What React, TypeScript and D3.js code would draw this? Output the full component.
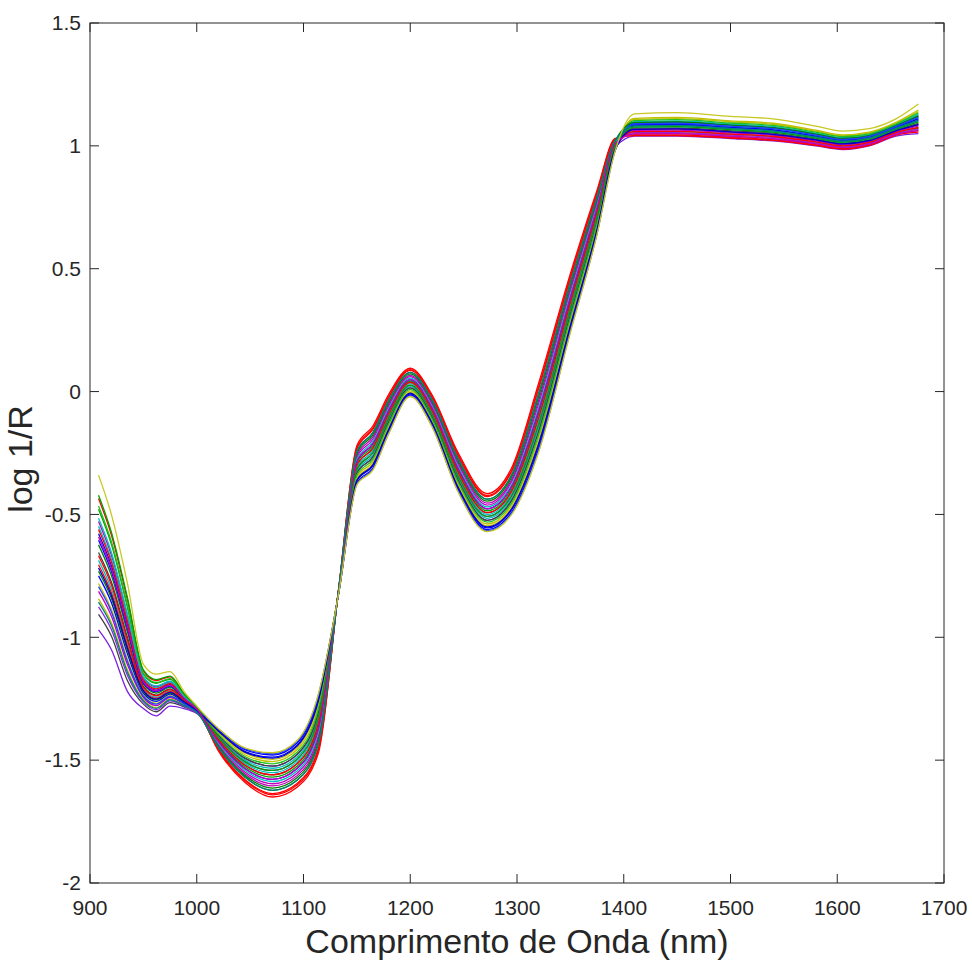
import React from 'react';
import * as d3 from 'd3';

const wavelengths = [908, 920, 935, 950, 962, 975, 988, 1000, 1020, 1045, 1071, 1094, 1114, 1133, 1150, 1165, 1180, 1200, 1220, 1245, 1272, 1295, 1320, 1350, 1375, 1392, 1410, 1450, 1500, 1540, 1580, 1605, 1630, 1655, 1676];

const s01 = [-0.34, -0.50, -0.78, -1.11, -1.15, -1.14, -1.22, -1.28, -1.37, -1.45, -1.47, -1.42, -1.23, -0.82, -0.38, -0.32, -0.17, -0.02, -0.14, -0.41, -0.57, -0.50, -0.25, 0.24, 0.64, 0.98, 1.13, 1.135, 1.12, 1.11, 1.08, 1.06, 1.07, 1.11, 1.17];
const s02 = [-0.97, -1.05, -1.22, -1.29, -1.32, -1.28, -1.29, -1.31, -1.397, -1.492, -1.524, -1.477, -1.302, -0.814, -0.332, -0.266, -0.122, 0.015, -0.101, -0.362, -0.524, -0.443, -0.166, 0.312, 0.694, 0.995, 1.04, 1.04, 1.03, 1.02, 1.00, 0.985, 1.00, 1.04, 1.05];
const s03 = [-0.907, -0.995, -1.176, -1.272, -1.303, -1.266, -1.283, -1.307, -1.415, -1.52, -1.56, -1.515, -1.35, -0.81, -0.30, -0.23, -0.09, 0.038, -0.075, -0.33, -0.493, -0.405, -0.11, 0.36, 0.73, 1.005, 1.067, 1.069, 1.057, 1.047, 1.024, 1.008, 1.021, 1.061, 1.086];
const s04 = [-0.435, -0.583, -0.846, -1.137, -1.176, -1.161, -1.231, -1.285, -1.46, -1.59, -1.65, -1.61, -1.47, -0.80, -0.22, -0.14, -0.01, 0.095, -0.01, -0.25, -0.415, -0.31, 0.03, 0.48, 0.82, 1.03, 1.042, 1.042, 1.032, 1.022, 1.002, 0.987, 1.002, 1.045, 1.07];
const s05 = [-0.479, -0.621, -0.877, -1.150, -1.187, -1.171, -1.235, -1.287, -1.420, -1.527, -1.569, -1.525, -1.362, -0.809, -0.292, -0.221, -0.082, 0.043, -0.069, -0.322, -0.485, -0.396, -0.096, 0.372, 0.739, 1.008, 1.085, 1.088, 1.075, 1.065, 1.040, 1.023, 1.035, 1.075, 1.110];
const s06 = [-0.579, -0.709, -0.947, -1.178, -1.215, -1.193, -1.247, -1.291, -1.379, -1.464, -1.488, -1.439, -1.254, -0.818, -0.364, -0.302, -0.154, -0.009, -0.127, -0.394, -0.555, -0.481, -0.222, 0.264, 0.658, 0.985, 1.094, 1.097, 1.084, 1.074, 1.048, 1.030, 1.042, 1.082, 1.122];
const s07 = [-0.529, -0.665, -0.912, -1.164, -1.201, -1.182, -1.241, -1.289, -1.438, -1.555, -1.605, -1.563, -1.41, -0.805, -0.26, -0.185, -0.05, 0.066, -0.043, -0.29, -0.454, -0.358, -0.04, 0.42, 0.775, 1.018, 1.067, 1.069, 1.057, 1.047, 1.024, 1.008, 1.021, 1.061, 1.086];
const s08 = [-0.687, -0.803, -1.022, -1.209, -1.244, -1.217, -1.259, -1.297, -1.402, -1.499, -1.533, -1.487, -1.314, -0.813, -0.324, -0.257, -0.114, 0.020, -0.095, -0.354, -0.516, -0.434, -0.152, 0.324, 0.703, 0.998, 1.090, 1.092, 1.080, 1.070, 1.044, 1.026, 1.039, 1.079, 1.116];
const s09 = [-0.624, -0.748, -0.978, -1.191, -1.227, -1.203, -1.252, -1.294, -1.447, -1.569, -1.623, -1.582, -1.434, -0.803, -0.244, -0.167, -0.034, 0.078, -0.030, -0.274, -0.438, -0.339, -0.012, 0.444, 0.793, 1.023, 1.058, 1.059, 1.048, 1.038, 1.016, 1.000, 1.014, 1.054, 1.074];
const s10 = [-0.705, -0.819, -1.035, -1.214, -1.249, -1.221, -1.261, -1.297, -1.453, -1.579, -1.636, -1.595, -1.451, -0.802, -0.233, -0.154, -0.023, 0.086, -0.020, -0.263, -0.427, -0.325, 0.008, 0.461, 0.806, 1.026, 1.049, 1.050, 1.039, 1.029, 1.008, 0.993, 1.007, 1.047, 1.062];
const s11 = [-0.781, -0.885, -1.088, -1.236, -1.269, -1.238, -1.269, -1.301, -1.388, -1.478, -1.506, -1.458, -1.278, -0.816, -0.348, -0.284, -0.138, 0.003, -0.114, -0.378, -0.539, -0.462, -0.194, 0.288, 0.676, 0.990, 1.108, 1.111, 1.098, 1.088, 1.060, 1.041, 1.053, 1.093, 1.140];
const s12 = [-0.750, -0.858, -1.066, -1.227, -1.261, -1.231, -1.266, -1.300, -1.424, -1.534, -1.578, -1.534, -1.374, -0.808, -0.284, -0.212, -0.074, 0.049, -0.062, -0.314, -0.477, -0.386, -0.082, 0.384, 0.748, 1.010, 1.081, 1.083, 1.071, 1.061, 1.036, 1.019, 1.032, 1.072, 1.104];
const s13 = [-0.548, -0.682, -0.925, -1.169, -1.206, -1.186, -1.243, -1.290, -1.411, -1.513, -1.551, -1.506, -1.338, -0.811, -0.308, -0.239, -0.098, 0.032, -0.082, -0.338, -0.500, -0.415, -0.124, 0.348, 0.721, 1.003, 1.099, 1.102, 1.089, 1.079, 1.052, 1.034, 1.046, 1.086, 1.128];
const s14 = [-0.655, -0.775, -1.000, -1.200, -1.235, -1.210, -1.255, -1.295, -1.397, -1.492, -1.524, -1.477, -1.302, -0.814, -0.332, -0.266, -0.122, 0.015, -0.101, -0.362, -0.524, -0.443, -0.166, 0.312, 0.694, 0.995, 1.072, 1.073, 1.062, 1.052, 1.028, 1.011, 1.025, 1.065, 1.092];
const s15 = [-0.813, -0.913, -1.110, -1.245, -1.278, -1.245, -1.273, -1.303, -1.433, -1.548, -1.596, -1.553, -1.398, -0.806, -0.268, -0.194, -0.058, 0.061, -0.049, -0.298, -0.462, -0.367, -0.054, 0.408, 0.766, 1.015, 1.063, 1.064, 1.053, 1.043, 1.020, 1.004, 1.018, 1.058, 1.080];
const s16 = [-0.466, -0.610, -0.868, -1.146, -1.184, -1.168, -1.234, -1.286, -1.393, -1.485, -1.515, -1.468, -1.290, -0.815, -0.340, -0.275, -0.130, 0.009, -0.108, -0.370, -0.531, -0.453, -0.180, 0.300, 0.685, 0.993, 1.103, 1.107, 1.093, 1.083, 1.056, 1.038, 1.049, 1.089, 1.134];
const s17 = [-0.605, -0.731, -0.965, -1.186, -1.221, -1.199, -1.249, -1.293, -1.375, -1.457, -1.479, -1.430, -1.242, -0.819, -0.372, -0.311, -0.162, -0.014, -0.134, -0.402, -0.562, -0.491, -0.236, 0.252, 0.649, 0.983, 1.085, 1.088, 1.075, 1.065, 1.040, 1.023, 1.035, 1.075, 1.110];
const s18 = [-0.561, -0.693, -0.934, -1.173, -1.210, -1.189, -1.245, -1.291, -1.456, -1.583, -1.641, -1.601, -1.458, -0.801, -0.228, -0.149, -0.018, 0.089, -0.017, -0.258, -0.423, -0.320, 0.016, 0.468, 0.811, 1.028, 1.045, 1.045, 1.035, 1.025, 1.004, 0.989, 1.004, 1.044, 1.056];
const s19 = [-0.844, -0.940, -1.132, -1.254, -1.286, -1.252, -1.276, -1.304, -1.384, -1.471, -1.497, -1.449, -1.266, -0.817, -0.356, -0.293, -0.146, -0.003, -0.121, -0.386, -0.547, -0.472, -0.208, 0.276, 0.667, 0.988, 1.112, 1.116, 1.102, 1.092, 1.064, 1.045, 1.056, 1.096, 1.146];
const s20 = [-0.516, -0.654, -0.903, -1.160, -1.198, -1.179, -1.240, -1.288, -1.429, -1.541, -1.587, -1.544, -1.386, -0.807, -0.276, -0.203, -0.066, 0.055, -0.056, -0.306, -0.469, -0.377, -0.068, 0.396, 0.757, 1.013, 1.076, 1.078, 1.066, 1.056, 1.032, 1.015, 1.028, 1.068, 1.098];
const s21 = [-0.876, -0.968, -1.154, -1.263, -1.295, -1.259, -1.280, -1.306, -1.406, -1.506, -1.542, -1.496, -1.326, -0.812, -0.316, -0.248, -0.106, 0.026, -0.088, -0.346, -0.508, -0.424, -0.138, 0.336, 0.712, 1.000, 1.054, 1.054, 1.044, 1.034, 1.012, 0.996, 1.011, 1.051, 1.068];
const s22 = [-0.731, -0.841, -1.053, -1.222, -1.255, -1.227, -1.263, -1.299, -1.442, -1.562, -1.614, -1.572, -1.422, -0.804, -0.252, -0.176, -0.042, 0.072, -0.036, -0.282, -0.446, -0.348, -0.026, 0.432, 0.784, 1.020, 1.094, 1.097, 1.084, 1.074, 1.048, 1.030, 1.042, 1.082, 1.122];
const s23 = [-0.668, -0.786, -1.009, -1.204, -1.238, -1.213, -1.256, -1.296, -1.415, -1.520, -1.560, -1.515, -1.350, -0.810, -0.300, -0.230, -0.090, 0.038, -0.075, -0.330, -0.493, -0.405, -0.110, 0.360, 0.730, 1.005, 1.058, 1.059, 1.048, 1.038, 1.016, 1.000, 1.014, 1.054, 1.074];
const s24 = [-0.794, -0.896, -1.097, -1.240, -1.272, -1.241, -1.270, -1.302, -1.372, -1.453, -1.474, -1.424, -1.235, -0.820, -0.377, -0.316, -0.167, -0.018, -0.137, -0.407, -0.567, -0.496, -0.244, 0.245, 0.644, 0.981, 1.090, 1.092, 1.080, 1.070, 1.044, 1.026, 1.039, 1.079, 1.116];
const s25 = [-0.422, -0.572, -0.837, -1.133, -1.172, -1.158, -1.229, -1.284, -1.406, -1.506, -1.542, -1.496, -1.326, -0.812, -0.316, -0.248, -0.106, 0.026, -0.088, -0.346, -0.508, -0.424, -0.138, 0.336, 0.712, 1.000, 1.076, 1.078, 1.066, 1.056, 1.032, 1.015, 1.028, 1.068, 1.098];
const s26 = [-0.718, -0.830, -1.044, -1.218, -1.252, -1.224, -1.262, -1.298, -1.381, -1.467, -1.492, -1.443, -1.259, -0.818, -0.361, -0.298, -0.151, -0.006, -0.124, -0.391, -0.551, -0.477, -0.216, 0.269, 0.662, 0.986, 1.067, 1.069, 1.057, 1.047, 1.024, 1.008, 1.021, 1.061, 1.086];
const s27 = [-0.592, -0.720, -0.956, -1.182, -1.218, -1.196, -1.248, -1.292, -1.424, -1.534, -1.578, -1.534, -1.374, -0.808, -0.284, -0.212, -0.074, 0.049, -0.062, -0.314, -0.477, -0.386, -0.082, 0.384, 0.748, 1.010, 1.049, 1.050, 1.039, 1.029, 1.008, 0.993, 1.007, 1.047, 1.062];
const s28 = [-0.857, -0.951, -1.141, -1.258, -1.289, -1.255, -1.277, -1.305, -1.447, -1.569, -1.623, -1.582, -1.434, -0.803, -0.244, -0.167, -0.034, 0.078, -0.030, -0.274, -0.438, -0.339, -0.012, 0.444, 0.793, 1.023, 1.081, 1.083, 1.071, 1.061, 1.036, 1.019, 1.032, 1.072, 1.104];

const spectra = [s02, s03, s04, s05, s06, s07, s08, s09, s10, s11, s12, s13, s14, s15, s16, s17, s18, s19, s20, s21, s22, s23, s24, s25, s26, s27, s28, s01];
const lineColors = ['#7b20e0', '#404040', '#ff0000', '#00a000', '#0000ff', '#bf00bf', '#00bfbf', '#008000', '#ff0000', '#bfbf00', '#0000ff', '#00bfbf', '#404040', '#bf00bf', '#20c020', '#0000ff', '#ff0000', '#bfbf00', '#00bfbf', '#8a2be2', '#008000', '#ff0000', '#2040ff', '#00a000', '#0000cc', '#bf00bf', '#008080', '#c8c820'];

const xTicks = [900, 1000, 1100, 1200, 1300, 1400, 1500, 1600, 1700];
const yTicks = [-2, -1.5, -1, -0.5, 0, 0.5, 1, 1.5];
const yTickLabels = ['-2', '-1.5', '-1', '-0.5', '0', '0.5', '1', '1.5'];
const xLabel = 'Comprimento de Onda (nm)';
const yLabel = 'log 1/R';

export default function App() {
  const W = 972, H = 961;
  const left = 90, right = 944, top = 23, bottom = 883;
  const x = d3.scaleLinear().domain([900, 1700]).range([left, right]);
  const y = d3.scaleLinear().domain([-2, 1.5]).range([bottom, top]);
  const line = d3.line<number>()
    .x((_, i) => x(wavelengths[i]))
    .y((d) => y(d))
    .curve(d3.curveMonotoneX);
  const font = '"Liberation Sans", Arial, Helvetica, sans-serif';
  const axisColor = '#262626';
  const tickLen = 9;
  return (
    <svg width={W} height={H} style={{ position: 'absolute', left: 0, top: 0, background: '#fff' }} fontFamily={font}>
      <rect x={0} y={0} width={W} height={H} fill="#fff" />
      <g>
        {spectra.map((s, i) => (
          <path key={i} d={line(s) || ''} fill="none" stroke={lineColors[i]} strokeWidth={1.3} strokeLinejoin="round" />
        ))}
      </g>
      <rect x={left} y={top} width={right - left} height={bottom - top} fill="none" stroke={axisColor} strokeWidth={1} />
      {xTicks.map((t) => (
        <g key={'x' + t}>
          <line x1={x(t)} x2={x(t)} y1={bottom} y2={bottom - tickLen} stroke={axisColor} />
          <line x1={x(t)} x2={x(t)} y1={top} y2={top + tickLen} stroke={axisColor} />
          <text x={x(t)} y={915} textAnchor="middle" fontSize={21} fill={axisColor}>{t}</text>
        </g>
      ))}
      {yTicks.map((t, i) => (
        <g key={'y' + t}>
          <line x1={left} x2={left + tickLen} y1={y(t)} y2={y(t)} stroke={axisColor} />
          <line x1={right} x2={right - tickLen} y1={y(t)} y2={y(t)} stroke={axisColor} />
          <text x={81} y={y(t)} dy="0.35em" textAnchor="end" fontSize={21} fill={axisColor}>{yTickLabels[i]}</text>
        </g>
      ))}
      <text x={517} y={953} textAnchor="middle" fontSize={34} fill={axisColor}>{xLabel}</text>
      <text transform={`translate(32, 459) rotate(-90)`} textAnchor="middle" fontSize={34} fill={axisColor}>{yLabel}</text>
    </svg>
  );
}
